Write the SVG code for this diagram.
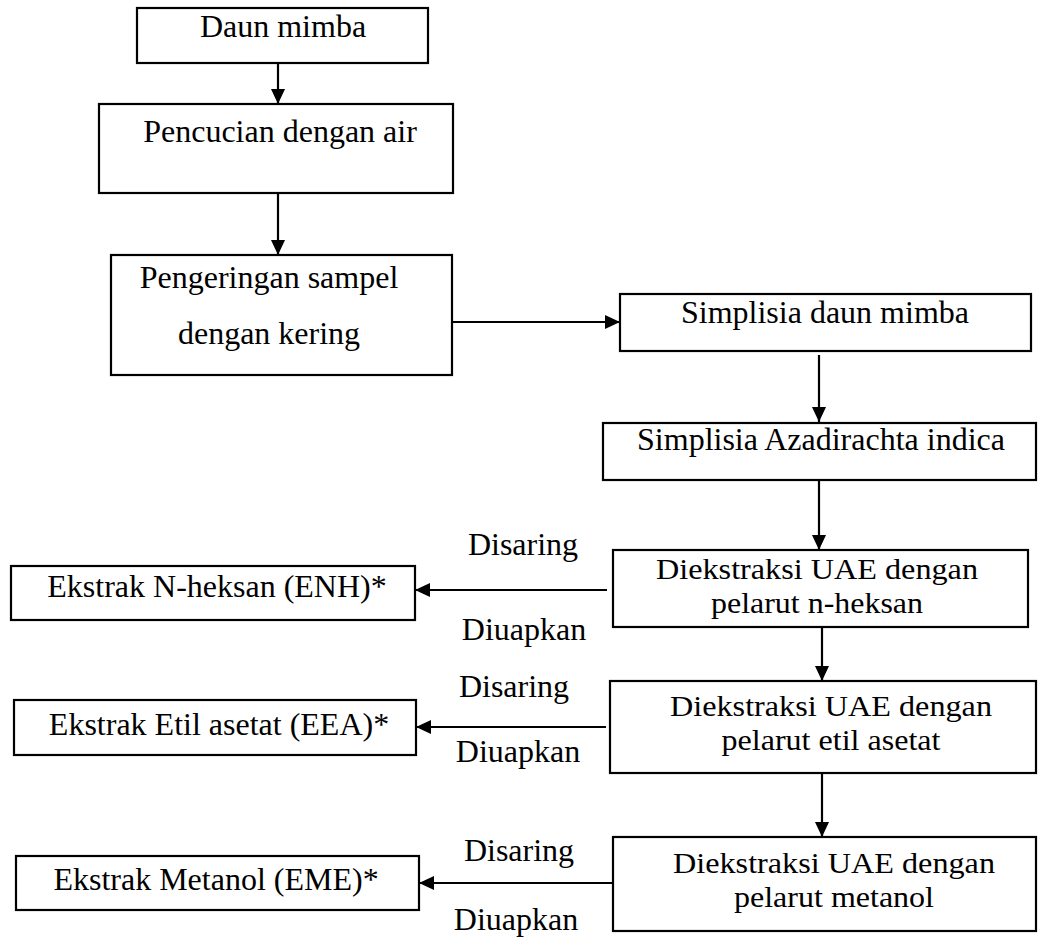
<svg xmlns="http://www.w3.org/2000/svg" width="1038" height="944" viewBox="0 0 1038 944">
<defs>
<style>
.box{fill:#fff;stroke:#000;stroke-width:2.2}
.t{font-family:"Liberation Serif","Times New Roman",serif;font-size:32px;fill:#000;text-anchor:middle}
.t2{font-family:"Liberation Serif","Times New Roman",serif;font-size:30px;fill:#000;text-anchor:middle}
.c{stroke:#000;stroke-width:2.2;fill:none;marker-end:url(#ah)}
</style>
<marker id="ah" markerWidth="15" markerHeight="14" refX="15" refY="7" orient="auto" markerUnits="userSpaceOnUse"><path d="M0,0 L15,7 L0,14 Z" fill="#000"/></marker>
</defs>
<rect width="1038" height="944" fill="#fff"/>
<g id="connectors">
<line class="c" x1="278" y1="63" x2="278" y2="104"/>
<line class="c" x1="278" y1="193" x2="278" y2="255"/>
<line class="c" x1="452" y1="322" x2="620" y2="322"/>
<line class="c" x1="819" y1="355" x2="819" y2="422"/>
<line class="c" x1="819" y1="480" x2="819" y2="550"/>
<line class="c" x1="822" y1="627" x2="822" y2="681"/>
<line class="c" x1="822" y1="773" x2="822" y2="837"/>
<line class="c" x1="607" y1="590" x2="415" y2="590"/>
<line class="c" x1="606" y1="727" x2="416" y2="727"/>
<line class="c" x1="613" y1="883" x2="419" y2="883"/>
<text class="t" x="523" y="555">Disaring</text>
<text class="t" x="524" y="640">Diuapkan</text>
<text class="t" x="514" y="697">Disaring</text>
<text class="t" x="518" y="762">Diuapkan</text>
<text class="t" x="519" y="861">Disaring</text>
<text class="t" x="516" y="930">Diuapkan</text>
</g>
<g id="daun-mimba"><rect class="box" x="137" y="8" width="291" height="55"/><text class="t" x="283" y="37">Daun mimba</text></g>
<g id="pencucian"><rect class="box" x="99" y="104" width="354" height="89"/><text class="t" x="280" y="142">Pencucian dengan air</text></g>
<g id="pengeringan"><rect class="box" x="111" y="255" width="341" height="120"/><text class="t" x="269" y="288">Pengeringan sampel</text><text class="t" x="269" y="344">dengan kering</text></g>
<g id="simplisia-daun"><rect class="box" x="620" y="294" width="411" height="57"/><text class="t" x="825" y="323">Simplisia daun mimba</text></g>
<g id="simplisia-azadirachta"><rect class="box" x="603" y="423" width="433" height="57"/><text class="t" x="821" y="450">Simplisia Azadirachta indica</text></g>
<g id="uae-nheksan"><rect class="box" x="613" y="550" width="415" height="77"/><text class="t2" x="817" y="579" textLength="322" lengthAdjust="spacingAndGlyphs">Diekstraksi UAE dengan</text><text class="t2" x="817" y="613" textLength="212" lengthAdjust="spacingAndGlyphs">pelarut n-heksan</text></g>
<g id="uae-etil"><rect class="box" x="610" y="681" width="426" height="92"/><text class="t2" x="831" y="716" textLength="322" lengthAdjust="spacingAndGlyphs">Diekstraksi UAE dengan</text><text class="t2" x="831" y="750" textLength="219" lengthAdjust="spacingAndGlyphs">pelarut etil asetat</text></g>
<g id="uae-metanol"><rect class="box" x="613" y="837" width="423" height="94"/><text class="t2" x="834" y="873" textLength="322" lengthAdjust="spacingAndGlyphs">Diekstraksi UAE dengan</text><text class="t2" x="834" y="907" textLength="200" lengthAdjust="spacingAndGlyphs">pelarut metanol</text></g>
<g id="ekstrak-enh"><rect class="box" x="11" y="566" width="404" height="54"/><text class="t" x="217" y="597">Ekstrak N-heksan (ENH)*</text></g>
<g id="ekstrak-eea"><rect class="box" x="14" y="700" width="402" height="55"/><text class="t" x="219" y="735">Ekstrak Etil asetat (EEA)*</text></g>
<g id="ekstrak-eme"><rect class="box" x="16" y="856" width="403" height="54"/><text class="t" x="216" y="890">Ekstrak Metanol (EME)*</text></g>
</svg>
